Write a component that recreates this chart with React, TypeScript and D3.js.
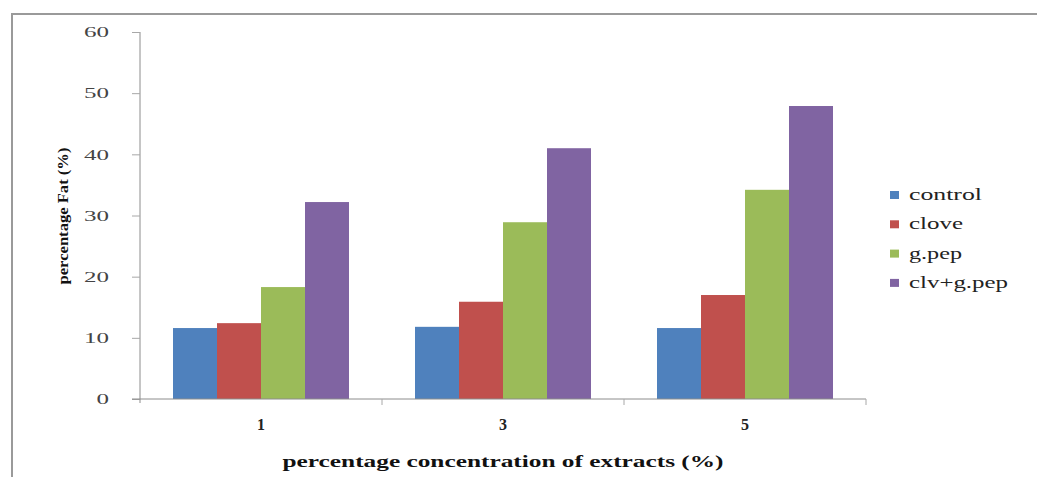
import React, { useEffect, useRef } from 'react';
import * as d3 from 'd3';

// concentration groups and series
const categories = ['1', '3', '5'];
const seriesNames = ['control', 'clove', 'g.pep', 'clv+g.pep'];
const seriesColors = ['#4F81BD', '#C0504D', '#9BBB59', '#8064A2'];
const control = [11.6, 11.8, 11.6];
const clove = [12.4, 15.9, 17.0];
const gpep = [18.3, 28.9, 34.2];
const clvGpep = [32.2, 41.0, 47.9];
const yTicks = [0, 10, 20, 30, 40, 50, 60];
// legend label widths in the reference (px), text is drawn stretched
const legendWidths = [73, 54, 53, 99];

const W = 1037;
const H = 477;
const FONT = '"Liberation Serif", serif';

const App: React.FC = () => {
  const svgRef = useRef<SVGSVGElement>(null);

  useEffect(() => {
    if (!svgRef.current) return;
    const svg = d3.select(svgRef.current);
    svg.selectAll('*').remove();

    const plot = { left: 140, right: 866, top: 32, bottom: 399 };
    const series = [control, clove, gpep, clvGpep];

    const x0 = d3.scaleBand().domain(categories).range([plot.left, plot.right]).padding(0);
    // Excel gap width 150%: 0.75 bar width on each side
    const x1 = d3
      .scaleBand()
      .domain(seriesNames)
      .range([0, x0.bandwidth()])
      .paddingInner(0)
      .paddingOuter(0.75);
    const y = d3.scaleLinear().domain([0, 60]).range([plot.bottom, plot.top]);

    // outer frame
    svg
      .append('rect')
      .attr('x', 12)
      .attr('y', 14)
      .attr('width', W + 20)
      .attr('height', H + 20)
      .attr('fill', 'none')
      .attr('stroke', '#9a9a9a')
      .attr('stroke-width', 2);

    // bars
    const groups = svg
      .append('g')
      .selectAll('g')
      .data(categories)
      .join('g')
      .attr('transform', d => `translate(${x0(d)},0)`);

    groups
      .selectAll('rect')
      .data((_, i) => seriesNames.map((name, s) => ({ name, s, v: series[s][i] })))
      .join('rect')
      .attr('x', d => x1(d.name)!)
      .attr('width', x1.bandwidth())
      .attr('y', d => y(d.v))
      .attr('height', d => y(0) - y(d.v))
      .attr('fill', d => seriesColors[d.s]);

    // y axis
    const yAxis = svg
      .append('g')
      .attr('transform', `translate(${plot.left},0)`)
      .call(d3.axisLeft(y).tickValues(yTicks).tickSize(8).tickPadding(23));
    yAxis.select('.domain').attr('stroke', '#8c8c8c').attr('d', `M0,${plot.top}V${plot.bottom + 4}`);
    yAxis.selectAll('.tick line').attr('stroke', '#a8a8a8');
    yAxis
      .selectAll<SVGTextElement, number>('.tick text')
      .attr('font-family', FONT)
      .attr('font-size', 15)
      .attr('fill', '#444')
      .attr('textLength', d => String(d).length * 12.5)
      .attr('lengthAdjust', 'spacingAndGlyphs');

    // x axis
    const xAxis = svg
      .append('g')
      .attr('transform', `translate(0,${plot.bottom})`)
      .call(d3.axisBottom(x0).tickSize(0).tickPadding(20));
    xAxis.select('.domain').attr('stroke', '#8c8c8c').attr('d', `M${plot.left - 8},0H${plot.right}`);
    xAxis
      .selectAll('.tick text')
      .attr('font-family', FONT)
      .attr('font-size', 16)
      .attr('font-weight', 'bold')
      .attr('fill', '#222');
    // category boundary ticks
    xAxis
      .append('g')
      .selectAll('line')
      .data(categories.slice(1).concat(['end']))
      .join('line')
      .attr('x1', d => (d === 'end' ? plot.right : x0(d)!))
      .attr('x2', d => (d === 'end' ? plot.right : x0(d)!))
      .attr('y1', 0)
      .attr('y2', 6)
      .attr('stroke', '#a8a8a8');

    // axis titles
    svg
      .append('text')
      .attr('x', 503)
      .attr('y', 467)
      .attr('text-anchor', 'middle')
      .attr('font-family', FONT)
      .attr('font-weight', 'bold')
      .attr('font-size', 16)
      .attr('fill', '#111')
      .attr('textLength', 441)
      .attr('lengthAdjust', 'spacingAndGlyphs')
      .text('percentage concentration of extracts (%)');

    svg
      .append('text')
      .attr('transform', `translate(68,216) rotate(-90)`)
      .attr('text-anchor', 'middle')
      .attr('font-family', FONT)
      .attr('font-weight', 'bold')
      .attr('font-size', 15)
      .attr('fill', '#111')
      .attr('textLength', 137)
      .attr('lengthAdjust', 'spacingAndGlyphs')
      .text('percentage Fat (%)');

    // legend
    const legend = svg
      .append('g')
      .selectAll('g')
      .data(seriesNames)
      .join('g')
      .attr('transform', (_, i) => `translate(890,${195 + i * 29.3})`);
    legend
      .append('rect')
      .attr('x', 0)
      .attr('y', -4)
      .attr('width', 9)
      .attr('height', 8)
      .attr('fill', (_, i) => seriesColors[i]);
    legend
      .append('text')
      .attr('x', 19)
      .attr('y', 5)
      .attr('font-family', FONT)
      .attr('font-size', 16)
      .attr('fill', '#222')
      .attr('textLength', (_, i) => legendWidths[i])
      .attr('lengthAdjust', 'spacingAndGlyphs')
      .text(d => d);
  }, []);

  return (
    <svg
      ref={svgRef}
      width={W}
      height={H}
      style={{ position: 'absolute', left: 0, top: 0, background: '#fff' }}
    />
  );
};

export default App;
